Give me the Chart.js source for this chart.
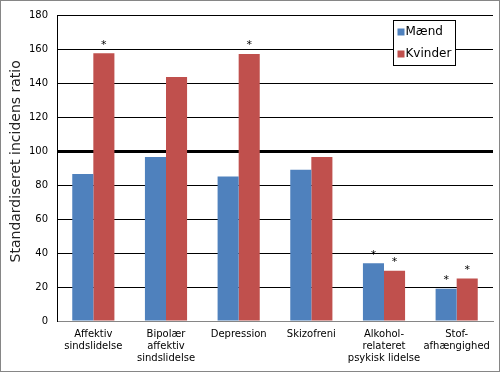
<!DOCTYPE html>
<html>
<head>
<meta charset="utf-8">
<script src="https://cdn.jsdelivr.net/npm/chart.js@4"></script>
<style>
  html, body { margin: 0; padding: 0; background: #fff; }
  #wrap { width: 500px; height: 372px; position: relative; }
</style>
</head>
<body>
<div id="wrap"><canvas id="sirChart" width="500" height="372"></canvas></div>
<script>
const categories = [
    ["Affektiv", "sindslidelse"],
    ["Bipolær", "affektiv", "sindslidelse"],
    "Depression",
    "Skizofreni",
    ["Alkohol-", "relateret", "psykisk lidelse"],
    ["Stof-", "afhængighed"],
];
const maend = [86.5, 96.5, 85, 89, 34, 19];
const kvinder = [157.5, 143.5, 157, 96.5, 29.5, 25];
const maendSignif = [false, false, false, false, true, true];
const kvinderSignif = [true, false, true, false, true, true];
const yTicks = [0, 20, 40, 60, 80, 100, 120, 140, 160, 180];

const FONT = "'DejaVu Sans', Verdana, sans-serif";

// stars above significant bars + frame round the picture
const extras = {
    id: "extras",
    afterDatasetsDraw(chart) {
        const ctx = chart.ctx;
        ctx.save();
        ctx.fillStyle = "#000";
        ctx.font = "11px " + FONT;
        ctx.textAlign = "center";
        ctx.textBaseline = "bottom";
        [maendSignif, kvinderSignif].forEach((flags, di) => {
            chart.getDatasetMeta(di).data.forEach((bar, i) => {
                if (flags[i]) ctx.fillText("*", bar.x, bar.y - 3);
            });
        });
        ctx.restore();
    },
    afterDraw(chart) {
        const ctx = chart.ctx;
        ctx.save();
        // legend box
        const bx = 393.5, by = 20.5, bw = 62, bh = 45;
        ctx.fillStyle = "#fff";
        ctx.fillRect(bx, by, bw, bh);
        ctx.strokeStyle = "#000";
        ctx.lineWidth = 1;
        ctx.strokeRect(bx, by, bw, bh);
        ctx.font = "12px " + FONT;
        ctx.textBaseline = "middle";
        ctx.textAlign = "left";
        chart.data.datasets.forEach((ds, i) => {
            const cy = by + 11 + i * 22;
            ctx.fillStyle = ds.backgroundColor;
            ctx.fillRect(bx + 4, cy - 3, 7, 7);
            ctx.fillStyle = "#000";
            ctx.fillText(ds.label, bx + 12, cy);
        });
        // outer frame
        ctx.strokeStyle = "#868686";
        ctx.strokeRect(0.5, 0.5, chart.width - 1, chart.height - 1);
        ctx.restore();
    },
};

new Chart(document.getElementById("sirChart"), {
    type: "bar",
    data: {
        labels: categories,
        datasets: [
            {
                label: "Mænd",
                data: maend,
                backgroundColor: "#4F81BD",
            },
            {
                label: "Kvinder",
                data: kvinder,
                backgroundColor: "#C0504D",
            },
        ],
    },
    options: {
        responsive: false,
        animation: false,
        events: [],
        layout: {
            padding: { left: 0, right: 7, top: 11, bottom: 0 },
        },
        plugins: {
            legend: { display: false },
            tooltip: { enabled: false },
        },
        datasets: {
            bar: {
                categoryPercentage: 0.58,
                barPercentage: 1,
            },
        },
        scales: {
            x: {
                grid: { display: false, drawTicks: false },
                border: { color: "#868686", width: 1 },
                ticks: {
                    color: "#000",
                    font: { family: FONT, size: 10 },
                    padding: 7,
                    maxRotation: 0,
                    autoSkip: false,
                },
                afterFit: (s) => { s.height = 51; },
            },
            y: {
                min: 0,
                max: 180,
                afterBuildTicks: (s) => { s.ticks = yTicks.map((v) => ({ value: v })); },
                grid: {
                    color: "#000",
                    lineWidth: (c) => (c.tick && c.tick.value === 100 ? 3 : 1),
                    drawTicks: false,
                },
                border: { color: "#000", width: 1 },
                ticks: {
                    color: "#000",
                    font: { family: FONT, size: 10 },
                    padding: 9,
                },
                title: {
                    display: true,
                    text: "   Standardiseret incidens ratio",
                    color: "#222",
                    font: { family: FONT, size: 14 },
                    padding: { top: 8, bottom: 4 },
                },
                afterFit: (s) => { s.width = 57; },
            },
        },
    },
    plugins: [extras],
});
</script>
</body>
</html>
